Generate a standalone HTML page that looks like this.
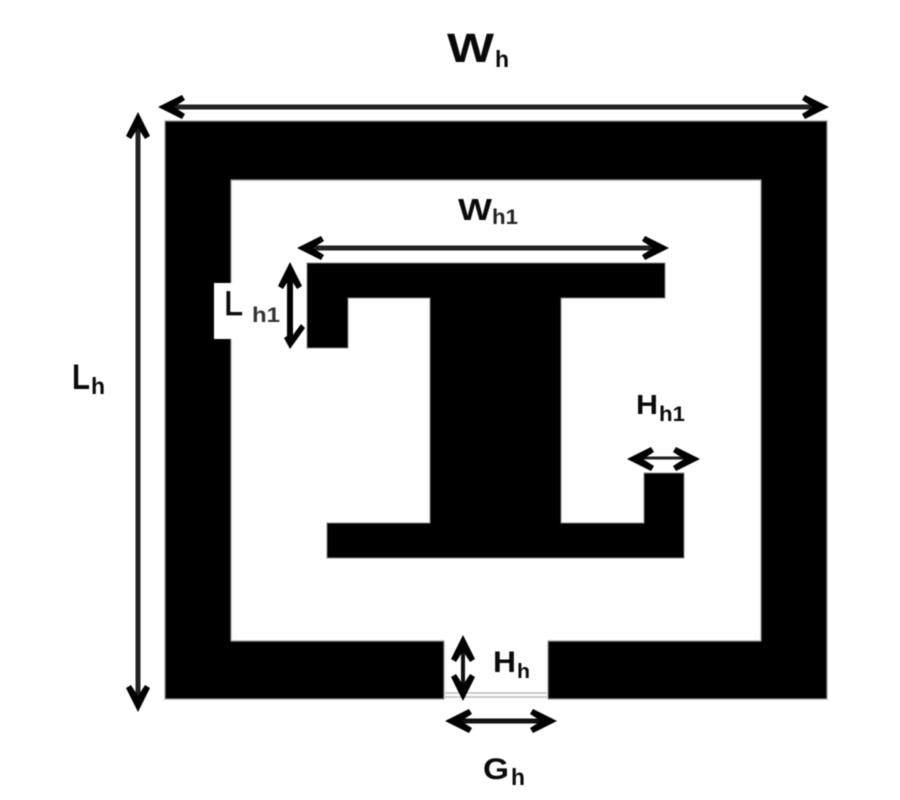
<!DOCTYPE html>
<html><head><meta charset="utf-8"><style>
html,body{margin:0;padding:0;background:#fff;width:900px;height:800px;overflow:hidden}
svg{display:block;filter:blur(0.4px)}
text{font-family:"Liberation Sans",sans-serif;fill:#0a0a0a}
.l{stroke:#222;fill:none;stroke-width:5}
</style></head><body>
<svg width="900" height="800" viewBox="0 0 900 800" xmlns="http://www.w3.org/2000/svg">
<defs><path id="a" d="M0 0L24 -12L27 -7L16 0L27 7L24 12Z" fill="#000"/></defs>
<rect width="900" height="800" fill="#fff"/>
<path d="M165 121H827V699H548V641H761V180H231V641H444V699H165Z" fill="#000" stroke="#999" stroke-width="1.2"/>
<rect x="214" y="283" width="18" height="56" fill="#fff"/>
<path d="M307 263H665V298H561V523H644V473H684V558H327V523H430V298H348V348H307Z" fill="#000" stroke="#888" stroke-width="1"/>
<path d="M445 693H547M445 697H547" stroke="#bbb" stroke-width="1.5"/>

<path class="l" d="M166 107H820"/>
<use href="#a" transform="translate(158,107)"/>
<use href="#a" transform="translate(829,107) rotate(180)"/>
<path class="l" d="M138 120V704"/>
<use href="#a" transform="translate(138,112) rotate(90)"/>
<use href="#a" transform="translate(138,712) rotate(-90)"/>

<path class="l" d="M305 248H662"/>
<use href="#a" transform="translate(297,248)"/>
<use href="#a" transform="translate(669,248) rotate(180)"/>
<path class="l" d="M290 270V342" style="stroke-width:6;stroke:#000"/>
<use href="#a" transform="translate(290,262) rotate(90)"/>
<path d="M290 349L284 338L287 336L290 339L301 324L305 328Z" fill="#000"/>

<path class="l" d="M635 458H692" style="stroke-width:3"/>
<use href="#a" transform="translate(627,459)"/>
<use href="#a" transform="translate(700,459) rotate(180)"/>
<path class="l" d="M463 642V694" style="stroke-width:4;stroke:#111"/>
<use href="#a" transform="translate(463,635) rotate(90)"/>
<use href="#a" transform="translate(463,701) rotate(-90)"/>
<path class="l" d="M452 721H550" style="stroke-width:5;stroke:#111"/>
<use href="#a" transform="translate(445,721)"/>
<use href="#a" transform="translate(557,721) rotate(180)"/>

<text x="447" y="62" font-size="41" font-weight="700" textLength="47" lengthAdjust="spacingAndGlyphs">W</text>
<text x="495" y="67" font-size="23" font-weight="700">h</text>
<text x="458" y="220" font-size="31" font-weight="700" textLength="34" lengthAdjust="spacingAndGlyphs">W</text>
<text x="492" y="224" font-size="21" font-weight="700" fill-opacity=".9" textLength="26" lengthAdjust="spacingAndGlyphs">h1</text>
<text x="224" y="315" font-size="34" stroke="#111" stroke-width=".7">L</text>
<text x="252" y="322" font-size="21" font-weight="700" style="fill:#333" textLength="28" lengthAdjust="spacingAndGlyphs">h1</text>
<text x="72" y="389" font-size="35" font-weight="700" textLength="18" lengthAdjust="spacingAndGlyphs">L</text>
<text x="91" y="394" font-size="23" font-weight="700">h</text>
<text x="636" y="414" font-size="28" font-weight="700" textLength="22" lengthAdjust="spacingAndGlyphs">H</text>
<text x="659" y="421" font-size="21" font-weight="700" textLength="26" lengthAdjust="spacingAndGlyphs">h1</text>
<text x="493" y="672" font-size="30" font-weight="700" textLength="23" lengthAdjust="spacingAndGlyphs">H</text>
<text x="517" y="678" font-size="20" font-weight="700" textLength="13" lengthAdjust="spacingAndGlyphs">h</text>
<text x="483" y="779" font-size="30" font-weight="700" textLength="26" lengthAdjust="spacingAndGlyphs">G</text>
<text x="511" y="785" font-size="23" font-weight="700" textLength="14" lengthAdjust="spacingAndGlyphs">h</text>
</svg>
</body></html>
